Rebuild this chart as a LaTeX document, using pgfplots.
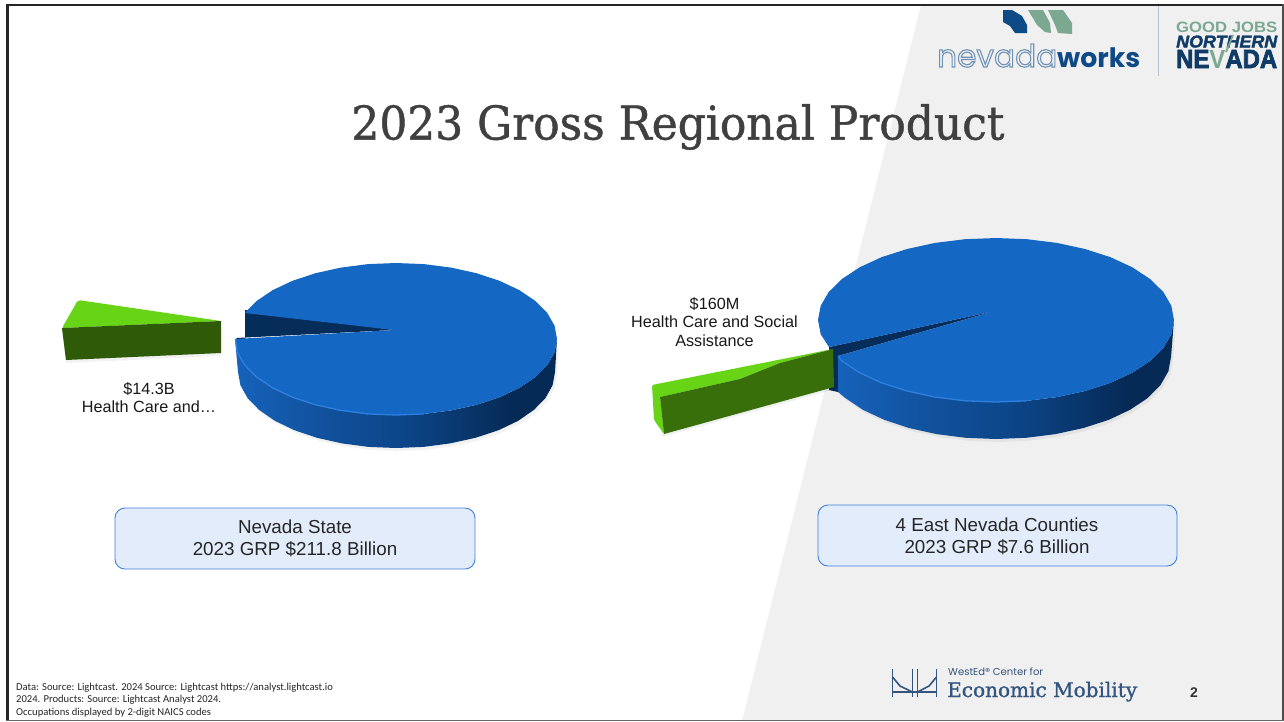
\documentclass[border=0pt]{standalone}
\usepackage{pgfplots}
\usepackage{graphicx}
\usepackage{fontspec}
\pgfplotsset{compat=1.18}
\setmainfont{Liberation Sans}
\newfontfamily\slabf{DejaVu Serif}
\newfontfamily\calf{Carlito}
\newfontfamily\popf{Poppins}
\newcommand{\strokeT}[2]{\special{pdf:code 2 Tr #1 w}#2\special{pdf:code 0 Tr}}
\newcommand{\outlineT}[2]{\special{pdf:code 1 Tr #1 w}#2\special{pdf:code 0 Tr}}
\definecolor{topblue}{HTML}{1567C4}
\definecolor{hiblue}{HTML}{2E80E0}
\definecolor{darkwedge}{HTML}{062C5A}
\definecolor{lgreen}{HTML}{67D416}
\definecolor{dgreen}{HTML}{2F5A08}
\definecolor{dgreenb}{HTML}{386F0A}
\definecolor{boxfill}{HTML}{E3ECFA}
\definecolor{boxline}{HTML}{3F80DC}
\definecolor{slide}{HTML}{F0F0F0}
\definecolor{navy}{HTML}{0E4A85}
\definecolor{sage}{HTML}{7CA892}
\definecolor{ink}{HTML}{0F3B66}
\definecolor{econ}{HTML}{33557F}
\definecolor{divider}{HTML}{B5C5D0}
\definecolor{w0}{HTML}{1662BA}
\definecolor{w1}{HTML}{11529E}
\definecolor{w2}{HTML}{0C4486}
\definecolor{w3}{HTML}{062A56}
\definecolor{w4}{HTML}{0A3A72}
\pgfdeclarehorizontalshading{wall}{100bp}{color(0bp)=(w0);color(25bp)=(w0);color(38bp)=(w1);color(52bp)=(w2);color(68bp)=(w3);color(88bp)=(w3);color(97bp)=(w4);color(100bp)=(w4)}
\pgfplotstableread{
x y
235 339
237.4 352.2
244.7 365
256.6 377
272.7 387.9
292.5 397.2
315.5 404.8
340.9 410.4
368 413.9
396 415
424 413.9
451.1 410.4
476.5 404.8
499.5 397.2
519.3 387.9
535.4 377
547.3 365
554.6 352.2
557 339
555 372
552.6 385.2
545.5 398
533.8 410
518 420.9
498.6 430.2
475.5 437.8
450 443.4
423.5 446.9
396 448
368.5 446.9
342 443.4
317 437.8
294.4 430.2
275 420.9
259.2 410
247.5 398
240.4 385.2
238 372
}\wallLeft
\pgfplotstableread{
x y
841.9 361
859.7 372.7
881.5 382.8
907 391
935.1 397.1
965 400.8
996 402
1027 400.8
1056.9 397.1
1085 391
1110.5 382.8
1132.3 372.7
1150.1 361
1163.3 348
1171.3 334.3
1174 320
1171 357
1168.4 371.3
1160.5 385
1147.7 398
1130.3 409.7
1108.8 419.8
1083.5 428
1055.5 434.1
1026.2 437.8
996 439
965.8 437.8
936.5 434.1
909 428
884.2 419.8
862.7 409.7
845.3 398
838 392
838 356
}\wallRight
\begin{document}
\begin{tikzpicture}
\begin{axis}[
  scale only axis, width=1284pt, height=721pt,
  xmin=0, xmax=1284, ymin=0, ymax=721, y dir=reverse,
  axis lines=none, clip=true,
  every axis plot/.append style={forget plot}]
% slide background
\addplot[draw=none, fill=white] coordinates {(0,0)(1284,0)(1284,721)(0,721)} -- cycle;
\addplot[draw=none, fill=slide] coordinates {(921,5)(1284,5)(1284,721)(742,721)} -- cycle;
% left pie: shadow, wedge wall, side wall, top
\addplot[draw=none, fill=black, fill opacity=.05, yshift=-3pt, xshift=2pt] table {\wallLeft} -- cycle;
\addplot[draw=none, fill=darkwedge] coordinates {(245,310)(394,330)(236,338)(245,345)} -- cycle;
\addplot[draw=none, shade, shading=wall] table {\wallLeft} -- cycle;
\addplot[draw=none, fill=topblue] coordinates {
(244.7,313)(256.6,301)(272.7,290.1)(292.5,280.8)(315.5,273.2)(340.9,267.6)(368,264.1)(396,263)(424,264.1)(451.1,267.6)(476.5,273.2)(499.5,280.8)(519.3,290.1)(535.4,301)(547.3,313)(554.6,325.8)(557,339)(554.6,352.2)(547.3,365)(535.4,377)(519.3,387.9)(499.5,397.2)(476.5,404.8)(451.1,410.4)(424,413.9)(396,415)(368,413.9)(340.9,410.4)(315.5,404.8)(292.5,397.2)(272.7,387.9)(256.6,377)(244.7,365)(237.4,352.2)(235,339)(394,330)} -- cycle;
\addplot[hiblue, line width=1.3pt] coordinates {(235.5,339)(237.4,352.2)(244.7,365)(256.6,377)(272.7,387.9)(292.5,397.2)(315.5,404.8)(340.9,410.4)(368,413.9)(396,415)(424,413.9)};
% left green slice
\addplot[draw=none, fill=black, fill opacity=.05, yshift=-3pt] coordinates {(62,328)(221,321)(221,353)(66,360)} -- cycle;
\addplot[draw=none, fill=lgreen, rounded corners=2pt] coordinates {(78,300)(62,328)(221,321)} -- cycle;
\addplot[draw=none, fill=dgreen] coordinates {(62,328)(221,321)(221,353)(66,360)} -- cycle;
% right pie
\addplot[draw=none, fill=black, fill opacity=.05, yshift=-3pt, xshift=2pt] table {\wallRight} -- cycle;
\addplot[draw=none, fill=darkwedge] coordinates {(829,347)(994.5,311)(838,356)(838,392)(829,390)} -- cycle;
\addplot[draw=none, shade, shading=wall] table {\wallRight} -- cycle;
\addplot[draw=none, fill=topblue] coordinates {
(994.5,311)(829,347)(820.7,334.3)(818,320)(820.7,305.7)(828.7,292)(841.9,279)(859.7,267.3)(881.5,257.2)(907,249)(935.1,242.9)(965,239.2)(996,238)(1027,239.2)(1056.9,242.9)(1085,249)(1110.5,257.2)(1132.3,267.3)(1150.1,279)(1163.3,292)(1171.3,305.7)(1174,320)(1171.3,334.3)(1163.3,348)(1150.1,361)(1132.3,372.7)(1110.5,382.8)(1085,391)(1056.9,397.1)(1027,400.8)(996,402)(965,400.8)(935.1,397.1)(907,391)(881.5,382.8)(859.7,372.7)(841.9,361)(838,356)} -- cycle;
\addplot[hiblue, line width=1.3pt] coordinates {(838,356)(841.9,361)(859.7,372.7)(881.5,382.8)(907,391)(935.1,397.1)(965,400.8)(996,402)(1027,400.8)};
% right green slice
\addplot[draw=none, fill=black, fill opacity=.06, yshift=-3pt, xshift=-2pt] coordinates {(660,397)(833,349)(834,387)(664,434)} -- cycle;
\addplot[draw=none, fill=lgreen, rounded corners=1.5pt] coordinates {(652,385)(833,349)(780,363)(740,379)(660,397)(664,434)(654,420)} -- cycle;
\addplot[draw=none, fill=dgreenb] coordinates {(660,397)(740,379)(780,363)(833,349)(834,387)(664,434)} -- cycle;
% boxes
\addplot[draw=boxline, fill=boxfill, line width=.9pt, rounded corners=10pt] coordinates {(115,508)(475,508)(475,569)(115,569)} -- cycle;
\addplot[draw=boxline, fill=boxfill, line width=.9pt, rounded corners=10pt] coordinates {(818,505)(1177,505)(1177,566)(818,566)} -- cycle;
% logos
\addplot[draw=none, fill=navy] coordinates {(1003,10)(1012,10)(1022,16)(1027,25)(1027,33)(1015,33)(1010,26)(1003,22)} -- cycle;
\addplot[draw=none, fill=sage] coordinates {(1028,10)(1043,10)(1050,23)(1051,33)(1045,32)(1037,25)} -- cycle;
\addplot[draw=none, fill=sage] coordinates {(1048,10)(1063,10)(1072,23)(1072,34)(1058,33)(1055,25)} -- cycle;
\addplot[color=divider, line width=1pt] coordinates {(1158,6)(1158,76)};
% bridge logo
\addplot[econ, line width=1.6pt] coordinates {(892.5,669)(892.5,697)};
\addplot[econ, line width=1.6pt] coordinates {(912.5,669)(912.5,697)};
\addplot[econ, line width=1.6pt] coordinates {(917.5,669)(917.5,697)};
\addplot[econ, line width=1.6pt] coordinates {(936.5,669)(936.5,697)};
\addplot[econ, line width=1.6pt] coordinates {(892.5,677)(900,686)(912.5,692)};
\addplot[econ, line width=1.6pt] coordinates {(936.5,677)(929,686)(917.5,692)};
\addplot[econ, line width=1.2pt] coordinates {(892.5,692)(936.5,692)};
% frame
\addplot[draw=none, fill=black!85] coordinates {(5.5,3.5)(1284,3.5)(1284,6)(5.5,6)} -- cycle;
\addplot[draw=none, fill=black!85] coordinates {(5.5,3.5)(8.5,3.5)(8.5,721)(5.5,721)} -- cycle;
\addplot[draw=none, fill=black!70] coordinates {(1282,3.5)(1284,3.5)(1284,721)(1282,721)} -- cycle;
\addplot[draw=none, fill=black!60] coordinates {(5.5,719.5)(1284,719.5)(1284,721)(5.5,721)} -- cycle;
% text
\node[text=black!75] at (axis cs:678,127) {\scalebox{1}[1.06]{\resizebox{653pt}{!}{\slabf\strokeT{0.1}{2023 Gross Regional Product}}}};
\node[font=\fontsize{16.2}{18.5}\selectfont, align=center, text=black!90] at (axis cs:149,397.5) {\$14.3B\\Health Care and…};
\node[font=\fontsize{16.2}{18.3}\selectfont, align=center, text=black!90] at (axis cs:714.5,322) {\$160M\\Health Care and Social\\Assistance};
\node[font=\fontsize{18.8}{22}\selectfont, align=center, text=black!85] at (axis cs:295,538) {Nevada State\\2023 GRP \$211.8 Billion};
\node[font=\fontsize{18.8}{22}\selectfont, align=center, text=black!85] at (axis cs:997,536) {4 East Nevada Counties\\2023 GRP \$7.6 Billion};
\node[anchor=west, inner sep=0pt, font=\calf\fontsize{10.6}{12.6}\selectfont, align=left, text=black!85] at (axis cs:16,700) {Data: Source: Lightcast. 2024 Source: Lightcast https://analyst.lightcast.io\\2024. Products: Source: Lightcast Analyst 2024.\\Occupations displayed by 2-digit NAICS codes};
\node[font=\bfseries\fontsize{14}{16}\selectfont, text=black!80] at (axis cs:1194,693) {2};
% logo text
\node[anchor=base west, inner sep=0pt, text=navy!60!white] at (axis cs:937,67) {\resizebox{120pt}{!}{\popf\outlineT{0.35}{nevada}}};
\node[anchor=base west, inner sep=0pt, text=navy] at (axis cs:1057,67) {\resizebox{83pt}{!}{\popf\bfseries works}};
\node[anchor=base west, inner sep=0pt, text=sage] at (axis cs:1176,32.5) {\resizebox{101pt}{10.5pt}{\bfseries GOOD JOBS}};
\node[anchor=base west, inner sep=0pt, text=ink] at (axis cs:1176,47.5) {\resizebox{101pt}{12pt}{\bfseries\itshape\strokeT{0.2}{NORTHERN}}};
\node[anchor=base west, inner sep=0pt, text=ink] at (axis cs:1176,68) {\resizebox{101pt}{18pt}{\bfseries\strokeT{0.3}{NE}\textcolor{sage}{V}\strokeT{0.3}{ADA}}};
\addplot[sage, line width=1.8pt] coordinates {(1226,52)(1233,35)};
\node[anchor=base west, inner sep=0pt, text=econ] at (axis cs:948,675) {\resizebox{95pt}{!}{\popf WestEd® Center for}};
\node[anchor=base west, inner sep=0pt, text=econ] at (axis cs:947,697) {\resizebox{190pt}{!}{\slabf\strokeT{0.12}{Economic Mobility}}};
\end{axis}
\end{tikzpicture}
\end{document}
